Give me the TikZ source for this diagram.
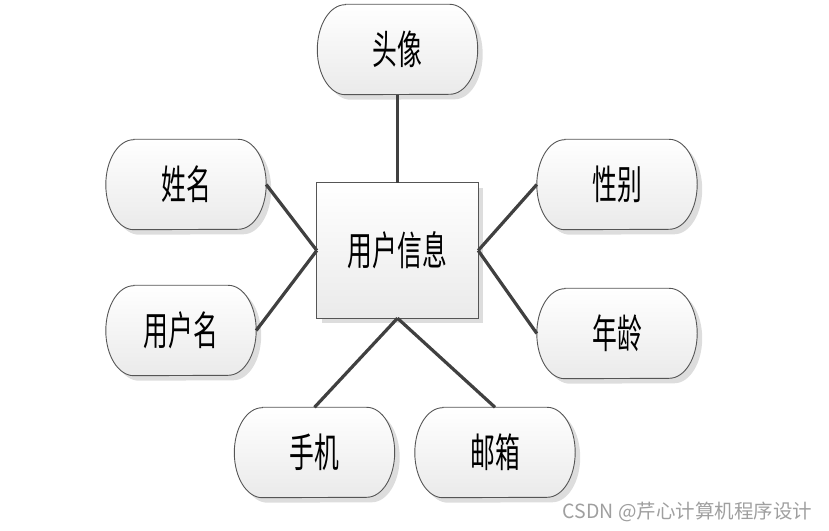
\documentclass[tikz,border=0pt]{standalone}
\usepackage{fontspec}
\usepackage{tikz}
\usetikzlibrary{backgrounds}
\newfontfamily\cjk[FakeStretch=0.62]{Noto Sans CJK SC}
\newfontfamily\wmfont{Noto Sans CJK SC}

\definecolor{linegray}{HTML}{404040}
\definecolor{edgegray}{HTML}{555555}
\definecolor{shadegray}{HTML}{EAEAEA}
\definecolor{shadowgray}{HTML}{DDDDDD}

% outline of an attribute node, shifted by (#2,#3)
\newcommand{\termpath}[3]{([xshift=#2+28,yshift=#3]#1.north west) -- ([xshift=#2-28,yshift=#3]#1.north east)
  arc[start angle=90,end angle=-90,x radius=28,y radius=45] -- ([xshift=#2+28,yshift=#3]#1.south west)
  arc[start angle=270,end angle=90,x radius=28,y radius=45] -- cycle}

\begin{document}
\begin{tikzpicture}[x=1pt,y=1pt,
  attr/.style={minimum width=160pt,minimum height=90pt,inner sep=0pt,
    font=\cjk\fontsize{40}{40}\selectfont},
  link/.style={line width=3.2pt,draw=linegray}]

\useasboundingbox (0,0) rectangle (829,530);

\node[attr] (touxiang) at (397.5,480.5) {头像};
\node[attr,minimum width=161pt,minimum height=135pt] (yonghu) at (397.5,279.5) {用户信息};
\node[attr] (xingming) at (186,345.5) {姓名};
\node[attr,minimum width=150pt] (yonghuming) at (181,199.5) {用户名};
\node[attr] (xingbie) at (617,345.5) {性别};
\node[attr] (nianling) at (617,196.5) {年龄};
\node[attr] (shouji) at (314.5,77.5) {手机};
\node[attr] (youxiang) at (495,77.5) {邮箱};

\begin{pgfonlayer}{background}
\foreach \n in {touxiang,xingming,yonghuming,xingbie,nianling,shouji,youxiang} {
  \fill[shadowgray] \termpath{\n}{5}{-5};
  \shade[top color=white,bottom color=shadegray,draw=edgegray,line width=0.9pt] \termpath{\n}{0}{0};
}
\fill[shadowgray] ([shift={(5,-5)}]yonghu.south west) rectangle ([shift={(5,-5)}]yonghu.north east);
\shade[top color=white,bottom color=shadegray,draw=edgegray,line width=1.1pt]
  (yonghu.south west) rectangle (yonghu.north east);
\end{pgfonlayer}

\draw[link] (touxiang.south) -- (yonghu.north);
\draw[link] (xingming.east) -- (yonghu.west);
\draw[link] (yonghuming.east) -- (yonghu.west);
\draw[link] (xingbie.west) -- (yonghu.east);
\draw[link] (nianling.west) -- (yonghu.east);
\draw[link] (shouji.north) -- (yonghu.south);
\draw[link] (youxiang.north) -- (yonghu.south);

\node[font=\wmfont\fontsize{19.5}{19.5}\selectfont,text=gray!75] (csdn) at (687.5,18.5) {CSDN @芹心计算机程序设计};

\end{tikzpicture}
\end{document}
